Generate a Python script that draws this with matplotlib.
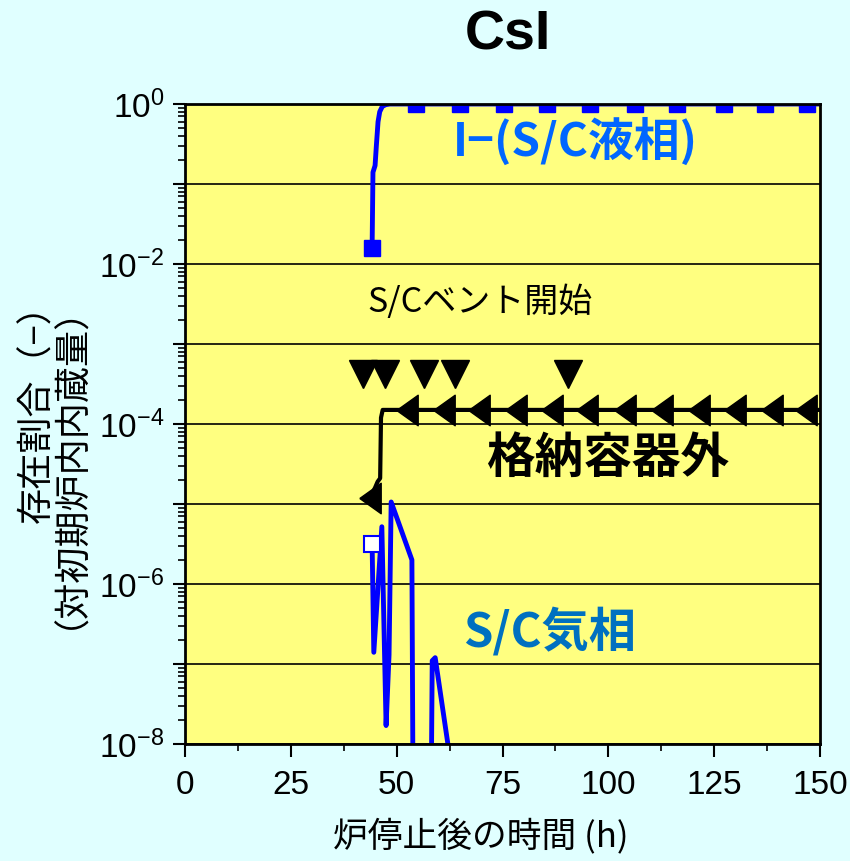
import numpy as np
import matplotlib
matplotlib.use("Agg")
import matplotlib.pyplot as plt
from matplotlib.ticker import LogLocator, FuncFormatter, MultipleLocator, NullFormatter

plt.rcParams['font.family'] = ['Liberation Sans', 'Noto Sans CJK JP', 'DejaVu Sans']
plt.rcParams['mathtext.default'] = 'regular'

JP = ['Noto Sans CJK JP', 'DejaVu Sans']
NUM = ['Liberation Sans Narrow', 'Liberation Sans', 'DejaVu Sans']

# I- in suppression chamber liquid phase
t_liq = [44.2, 44.4, 44.9, 45.2, 45.6, 46.0, 46.6, 47.4, 48.4, 150.0]
liq = [0.0158, 0.14, 0.17, 0.30, 0.60, 0.80, 0.93, 0.98, 1.0, 1.0]
t_liq_mk = [44.2, 54.6, 65.0, 75.4, 85.5, 95.7, 106.3, 116.2, 127.3, 137.0, 147.0]
liq_mk = [0.0158, 1.0, 1.0, 1.0, 1.0, 1.0, 1.0, 1.0, 1.0, 1.0, 1.0]

# outside containment
t_out = [43.7, 44.9, 45.5, 46.1, 46.3, 46.7, 150.0]
out = [1.2e-5, 1.6e-5, 1.9e-5, 2.1e-5, 1.2e-4, 1.5e-4, 1.5e-4]
t_out_mk = [43.7, 52.4, 61.2, 69.5, 78.2, 86.8, 95.0, 103.9, 112.7, 121.4, 130.0, 138.7, 146.6]
out_mk = [1.2e-5] + [1.5e-4] * 12

# S/C gas phase
t_gas = [44.2, 44.6, 46.5, 47.5, 48.2, 48.7, 53.6, 53.9, 58.1, 58.4, 59.1, 62.1, 62.6]
gas = [3.2e-6, 1.4e-7, 5.2e-6, 1.7e-8, 1.3e-7, 1.06e-5, 2.0e-6, 1e-9, 1e-9,
       1.1e-7, 1.2e-7, 1e-8, 3e-9]

# S/C vent start times
t_vent = [42.1, 47.2, 56.5, 63.8, 90.5]
vent = [4.2e-4] * 5

fig = plt.figure(figsize=(8.5, 8.61), dpi=100, facecolor='#E0FFFF')
ax = fig.add_axes([185/850, 1 - 744/861, 635/850, 640/861])
ax.set_facecolor('#FFFF80')
ax.set_yscale('log')
ax.set_xlim(0, 150)
ax.set_ylim(1e-8, 1)

blue = '#0000FF'
ax.plot(t_liq, liq, color=blue, lw=3.5, zorder=3)
ax.plot(t_liq_mk, liq_mk, ls='none', marker='s', ms=11.5, color=blue, zorder=4)

ax.plot(t_gas, gas, color=blue, lw=3.5, zorder=3)
ax.plot(t_gas[:1], gas[:1], ls='none', marker='s', ms=11.5, mfc='white',
        mec=blue, mew=1.5, zorder=4)

left_tri = [(-0.7, 0), (0.7, 1), (0.7, -1), (-0.7, 0)]
ax.plot(t_out, out, color='black', lw=3, zorder=3)
ax.plot(t_out_mk, out_mk, ls='none', marker=left_tri, ms=22, color='black', zorder=4)

ax.plot(t_vent, vent, ls='none', marker='v', ms=19.5, color='black', zorder=4)

# axes and ticks
ax.yaxis.set_major_locator(LogLocator(base=10, numticks=20))
ax.yaxis.set_minor_locator(LogLocator(base=10, subs=np.arange(2, 10), numticks=20))
ax.yaxis.set_minor_formatter(NullFormatter())


def ylab(v, pos):
    e = int(round(np.log10(v)))
    return f'$10^{{{e}}}$' if e % 2 == 0 else ''


ax.yaxis.set_major_formatter(FuncFormatter(ylab))
ax.xaxis.set_major_locator(MultipleLocator(25))
ax.xaxis.set_minor_locator(MultipleLocator(12.5))
ax.grid(True, which='major', axis='y', color='black', lw=1.2)
ax.tick_params(which='major', direction='out', length=9, width=1.5, labelsize=24, pad=6)
ax.tick_params(which='minor', direction='out', length=5, width=1.2)
ax.tick_params(axis='x', which='major', pad=10)
for lbl in ax.get_xticklabels():
    lbl.set_family(NUM)
for s in ax.spines.values():
    s.set_linewidth(2)
    s.set_zorder(5)

# labels
fig.text(508/850, 1 - 36/861, 'CsI', ha='center', va='center', fontsize=40,
         fontweight='bold', family=['Liberation Sans', 'DejaVu Sans'])
fig.text(481/850, 1 - 836/861, '炉停止後の時間 (h)', ha='center', va='center',
         fontsize=25, family=JP)
fig.text(37/850, 1 - 286/861, '存在割合（−）', ha='center', va='top', rotation=90,
         fontsize=26, family=JP)
fig.text(51/850, 1 - 268/861, '（対初期炉内内蔵量）', ha='center', va='top',
         rotation=90, fontsize=26, family=JP)

fig.text(453/850, 1 - 142/861, 'I−(S/C液相)', ha='left', va='center', fontsize=33,
         fontweight='bold', color='#0066FF', family=JP)
fig.text(480/850, 1 - 302/861, 'S/Cベント開始', ha='center', va='center', fontsize=24.5,
         color='black', family=JP)
fig.text(608/850, 1 - 458/861, '格納容器外', ha='center', va='center', fontsize=35,
         fontweight='bold', color='black', family=JP)
fig.text(550/850, 1 - 632/861, 'S/C気相', ha='center', va='center', fontsize=34,
         fontweight='bold', color='#0070C0', family=JP)

fig.savefig('out.png', dpi=100, facecolor=fig.get_facecolor())
